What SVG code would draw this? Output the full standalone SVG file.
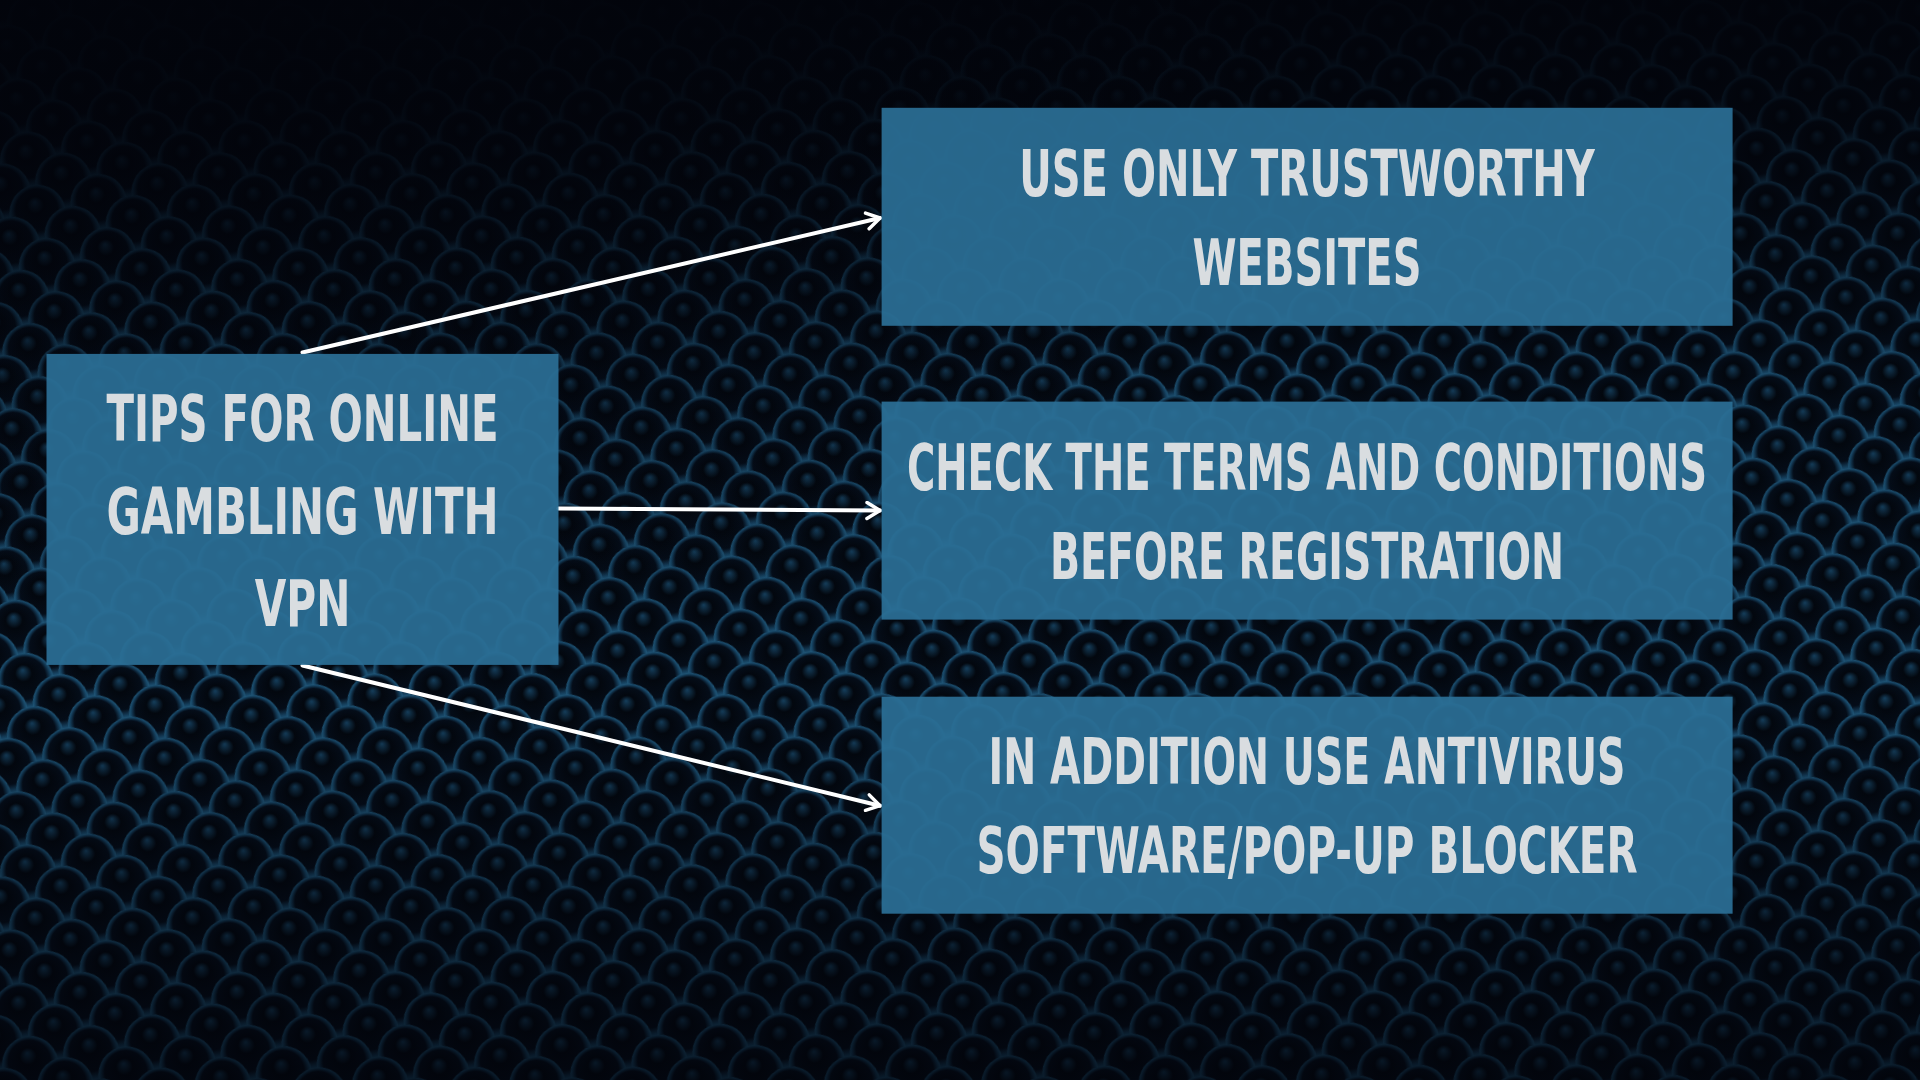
<svg xmlns="http://www.w3.org/2000/svg" width="1920" height="1080" viewBox="0 0 1920 1080">
  <defs>
    <radialGradient id="dimple" cx="50%" cy="50%" r="50%" fx="48%" fy="30%">
      <stop offset="0" stop-color="#1a4d70"/>
      <stop offset="0.3" stop-color="#03080f"/>
      <stop offset="0.75" stop-color="#050f1c"/>
      <stop offset="0.92" stop-color="#1b5378"/>
      <stop offset="1" stop-color="#2a6e96"/>
    </radialGradient>
    <pattern id="hex" x="0" y="0" width="62" height="54" patternUnits="userSpaceOnUse" patternTransform="rotate(-10)">
      <rect width="62" height="54" fill="#1a5479"/>
      <circle cx="0" cy="0" r="28" fill="url(#dimple)"/>
      <circle cx="62" cy="0" r="28" fill="url(#dimple)"/>
      <circle cx="31" cy="27" r="28" fill="url(#dimple)"/>
      <circle cx="0" cy="54" r="28" fill="url(#dimple)"/>
      <circle cx="62" cy="54" r="28" fill="url(#dimple)"/>
    </pattern>
    <linearGradient id="shade" x1="0" y1="0" x2="0" y2="1">
      <stop offset="0" stop-color="#02040b" stop-opacity="0.97"/>
      <stop offset="0.1" stop-color="#02040b" stop-opacity="0.85"/>
      <stop offset="0.35" stop-color="#02040b" stop-opacity="0.25"/>
      <stop offset="0.65" stop-color="#02040b" stop-opacity="0.2"/>
      <stop offset="0.85" stop-color="#02040b" stop-opacity="0.55"/>
      <stop offset="1" stop-color="#02040b" stop-opacity="0.75"/>
    </linearGradient>
    <radialGradient id="vign" cx="15%" cy="5%" r="55%">
      <stop offset="0" stop-color="#02040b" stop-opacity="0.75"/>
      <stop offset="1" stop-color="#02040b" stop-opacity="0"/>
    </radialGradient>
    <marker id="arrow" viewBox="0 0 20 20" refX="17" refY="10" markerWidth="20" markerHeight="20" markerUnits="userSpaceOnUse" orient="auto">
      <polyline points="4,2 17,10 4,18" fill="none" stroke="#ffffff" stroke-width="3.5" stroke-linecap="round" stroke-linejoin="round"/>
    </marker>
    <style>
      .box { fill: #2b6f96; fill-opacity: 0.93; }
      .lbl { font-family: "Liberation Sans Narrow", "DejaVu Sans Condensed", "Liberation Sans", sans-serif; font-weight: bold; font-size: 64px; fill: #d9dde0; text-anchor: middle; }
      .conn { stroke: #ffffff; stroke-width: 4; fill: none; stroke-linecap: round; marker-end: url(#arrow); }
    </style>
  </defs>

  <rect width="1920" height="1080" fill="#061020"/>
  <rect width="1920" height="1080" fill="url(#hex)"/>
  <rect width="1920" height="1080" fill="url(#shade)"/>
  <rect width="1920" height="1080" fill="url(#vign)"/>

  <g id="connectors">
    <line class="conn" x1="302.5" y1="352.5" x2="880" y2="218"/>
    <line class="conn" x1="558.4" y1="508.5" x2="880" y2="510.6"/>
    <line class="conn" x1="302.5" y1="665.5" x2="880" y2="805.7"/>
  </g>

  <g id="node-main">
    <rect class="box" x="46.5" y="353.9" width="512" height="311"/>
    <text class="lbl" x="302.5" y="441" textLength="392" lengthAdjust="spacingAndGlyphs">TIPS FOR ONLINE</text>
    <text class="lbl" x="302.5" y="534" textLength="392" lengthAdjust="spacingAndGlyphs">GAMBLING WITH</text>
    <text class="lbl" x="302.5" y="626" textLength="95.5" lengthAdjust="spacingAndGlyphs">VPN</text>
  </g>

  <g id="node-trustworthy">
    <rect class="box" x="881.6" y="107.8" width="851" height="218"/>
    <text class="lbl" x="1307" y="196" textLength="575.5" lengthAdjust="spacingAndGlyphs">USE ONLY TRUSTWORTHY</text>
    <text class="lbl" x="1307" y="285" textLength="229" lengthAdjust="spacingAndGlyphs">WEBSITES</text>
  </g>

  <g id="node-terms">
    <rect class="box" x="881.6" y="401.6" width="851" height="218"/>
    <text class="lbl" x="1307" y="490" textLength="800" lengthAdjust="spacingAndGlyphs">CHECK THE TERMS AND CONDITIONS</text>
    <text class="lbl" x="1307" y="579" textLength="514" lengthAdjust="spacingAndGlyphs">BEFORE REGISTRATION</text>
  </g>

  <g id="node-antivirus">
    <rect class="box" x="881.6" y="696.7" width="851" height="217"/>
    <text class="lbl" x="1307" y="784" textLength="637" lengthAdjust="spacingAndGlyphs">IN ADDITION USE ANTIVIRUS</text>
    <text class="lbl" x="1307" y="873" textLength="661" lengthAdjust="spacingAndGlyphs">SOFTWARE/POP-UP BLOCKER</text>
  </g>
</svg>
